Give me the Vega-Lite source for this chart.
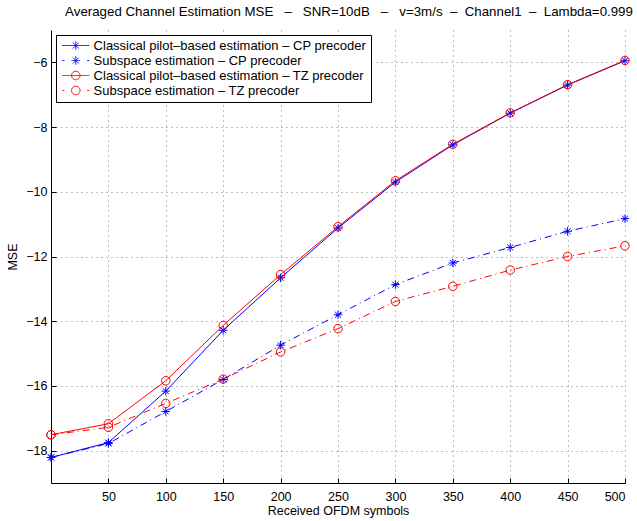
{
  "$schema": "https://vega.github.io/schema/vega-lite/v6.json",
  "width": 574,
  "height": 453,
  "autosize": {"type": "none"},
  "padding": {"left": 51, "top": 30, "right": 12, "bottom": 38},
  "background": "white",
  "config": {
    "font": "Liberation Sans",
    "view": {"stroke": null},
    "axis": {
      "domainColor": "black",
      "domainWidth": 1,
      "tickColor": "black",
      "tickWidth": 1,
      "tickSize": -5,
      "labelColor": "black",
      "labelFont": "Liberation Sans",
      "labelFontSize": 12.5,
      "titleColor": "black",
      "titleFont": "Liberation Sans",
      "titleFontSize": 12.5,
      "titleFontWeight": "normal",
      "grid": true,
      "gridColor": "#444444",
      "gridDash": [1, 4],
      "gridOpacity": 0.7,
      "gridWidth": 1
    }
  },
  "title": {
    "text": "Averaged Channel Estimation MSE \u00a0 – \u00a0 SNR=10dB \u00a0 – \u00a0 v=3m/s \u00a0– \u00a0Channel1 \u00a0– \u00a0Lambda=0.999",
    "font": "Liberation Sans",
    "fontSize": 13.3,
    "fontWeight": "normal",
    "color": "black",
    "offset": 12,
    "dx": 11
  },
  "data": {
    "values": [
      {"x": 0, "y": -18.21, "m": "Classical", "p": "CP", "s": "Classical pilot–based estimation – CP precoder"},
      {"x": 50, "y": -17.75, "m": "Classical", "p": "CP", "s": "Classical pilot–based estimation – CP precoder"},
      {"x": 100, "y": -16.16, "m": "Classical", "p": "CP", "s": "Classical pilot–based estimation – CP precoder"},
      {"x": 150, "y": -14.28, "m": "Classical", "p": "CP", "s": "Classical pilot–based estimation – CP precoder"},
      {"x": 200, "y": -12.66, "m": "Classical", "p": "CP", "s": "Classical pilot–based estimation – CP precoder"},
      {"x": 250, "y": -11.12, "m": "Classical", "p": "CP", "s": "Classical pilot–based estimation – CP precoder"},
      {"x": 300, "y": -9.7, "m": "Classical", "p": "CP", "s": "Classical pilot–based estimation – CP precoder"},
      {"x": 350, "y": -8.55, "m": "Classical", "p": "CP", "s": "Classical pilot–based estimation – CP precoder"},
      {"x": 400, "y": -7.57, "m": "Classical", "p": "CP", "s": "Classical pilot–based estimation – CP precoder"},
      {"x": 450, "y": -6.7, "m": "Classical", "p": "CP", "s": "Classical pilot–based estimation – CP precoder"},
      {"x": 500, "y": -5.95, "m": "Classical", "p": "CP", "s": "Classical pilot–based estimation – CP precoder"},
      {"x": 0, "y": -18.21, "m": "Subspace", "p": "CP", "s": "Subspace estimation – CP precoder"},
      {"x": 50, "y": -17.78, "m": "Subspace", "p": "CP", "s": "Subspace estimation – CP precoder"},
      {"x": 100, "y": -16.79, "m": "Subspace", "p": "CP", "s": "Subspace estimation – CP precoder"},
      {"x": 150, "y": -15.8, "m": "Subspace", "p": "CP", "s": "Subspace estimation – CP precoder"},
      {"x": 200, "y": -14.74, "m": "Subspace", "p": "CP", "s": "Subspace estimation – CP precoder"},
      {"x": 250, "y": -13.8, "m": "Subspace", "p": "CP", "s": "Subspace estimation – CP precoder"},
      {"x": 300, "y": -12.87, "m": "Subspace", "p": "CP", "s": "Subspace estimation – CP precoder"},
      {"x": 350, "y": -12.2, "m": "Subspace", "p": "CP", "s": "Subspace estimation – CP precoder"},
      {"x": 400, "y": -11.72, "m": "Subspace", "p": "CP", "s": "Subspace estimation – CP precoder"},
      {"x": 450, "y": -11.22, "m": "Subspace", "p": "CP", "s": "Subspace estimation – CP precoder"},
      {"x": 500, "y": -10.83, "m": "Subspace", "p": "CP", "s": "Subspace estimation – CP precoder"},
      {"x": 0, "y": -17.51, "m": "Classical", "p": "TZ", "s": "Classical pilot–based estimation – TZ precoder"},
      {"x": 50, "y": -17.17, "m": "Classical", "p": "TZ", "s": "Classical pilot–based estimation – TZ precoder"},
      {"x": 100, "y": -15.84, "m": "Classical", "p": "TZ", "s": "Classical pilot–based estimation – TZ precoder"},
      {"x": 150, "y": -14.13, "m": "Classical", "p": "TZ", "s": "Classical pilot–based estimation – TZ precoder"},
      {"x": 200, "y": -12.56, "m": "Classical", "p": "TZ", "s": "Classical pilot–based estimation – TZ precoder"},
      {"x": 250, "y": -11.08, "m": "Classical", "p": "TZ", "s": "Classical pilot–based estimation – TZ precoder"},
      {"x": 300, "y": -9.66, "m": "Classical", "p": "TZ", "s": "Classical pilot–based estimation – TZ precoder"},
      {"x": 350, "y": -8.53, "m": "Classical", "p": "TZ", "s": "Classical pilot–based estimation – TZ precoder"},
      {"x": 400, "y": -7.56, "m": "Classical", "p": "TZ", "s": "Classical pilot–based estimation – TZ precoder"},
      {"x": 450, "y": -6.69, "m": "Classical", "p": "TZ", "s": "Classical pilot–based estimation – TZ precoder"},
      {"x": 500, "y": -5.94, "m": "Classical", "p": "TZ", "s": "Classical pilot–based estimation – TZ precoder"},
      {"x": 0, "y": -17.51, "m": "Subspace", "p": "TZ", "s": "Subspace estimation – TZ precoder"},
      {"x": 50, "y": -17.28, "m": "Subspace", "p": "TZ", "s": "Subspace estimation – TZ precoder"},
      {"x": 100, "y": -16.54, "m": "Subspace", "p": "TZ", "s": "Subspace estimation – TZ precoder"},
      {"x": 150, "y": -15.79, "m": "Subspace", "p": "TZ", "s": "Subspace estimation – TZ precoder"},
      {"x": 200, "y": -14.95, "m": "Subspace", "p": "TZ", "s": "Subspace estimation – TZ precoder"},
      {"x": 250, "y": -14.23, "m": "Subspace", "p": "TZ", "s": "Subspace estimation – TZ precoder"},
      {"x": 300, "y": -13.39, "m": "Subspace", "p": "TZ", "s": "Subspace estimation – TZ precoder"},
      {"x": 350, "y": -12.92, "m": "Subspace", "p": "TZ", "s": "Subspace estimation – TZ precoder"},
      {"x": 400, "y": -12.42, "m": "Subspace", "p": "TZ", "s": "Subspace estimation – TZ precoder"},
      {"x": 450, "y": -12.0, "m": "Subspace", "p": "TZ", "s": "Subspace estimation – TZ precoder"},
      {"x": 500, "y": -11.67, "m": "Subspace", "p": "TZ", "s": "Subspace estimation – TZ precoder"}
    ]
  },
  "encoding": {
    "x": {
      "field": "x",
      "type": "quantitative",
      "scale": {"domain": [0, 500], "nice": false, "zero": false},
      "axis": {
        "title": "Received OFDM symbols",
        "values": [50, 100, 150, 200, 250, 300, 350, 400, 450, 500],
        "labelPadding": 12,
        "titlePadding": 2
      }
    },
    "y": {
      "field": "y",
      "type": "quantitative",
      "scale": {"domain": [-19, -5], "nice": false, "zero": false},
      "axis": {
        "title": "MSE",
        "values": [-18, -16, -14, -12, -10, -8, -6],
        "labelPadding": 9,
        "titlePadding": 6
      }
    },
    "color": {
      "field": "s",
      "type": "nominal",
      "scale": {
        "domain": ["Classical pilot–based estimation – CP precoder", "Subspace estimation – CP precoder", "Classical pilot–based estimation – TZ precoder", "Subspace estimation – TZ precoder"],
        "range": ["#0000ff", "#0000ff", "#ff0000", "#ff0000"]
      },
      "legend": {
        "title": null,
        "orient": "top-left",
        "offset": 5,
        "fillColor": "white",
        "strokeColor": "black",
        "padding": 4,
        "cornerRadius": 0,
        "labelFont": "Liberation Sans",
        "labelFontSize": 13,
        "labelColor": "black",
        "labelLimit": 400,
        "symbolSize": 144,
        "symbolOffset": 9.3,
        "labelOffset": 11.3,
        "rowPadding": 1,
        "symbolStrokeWidth": 1,
        "encode": {
          "symbols": {
            "update": {
              "shape": {"signal": "datum.value === 'Classical pilot–based estimation – CP precoder' ? 'M-2.25,0H2.25M0,-0.71V0.71M-0.5,-0.5L0.5,0.5M-0.5,0.5L0.5,-0.5' : datum.value === 'Classical pilot–based estimation – TZ precoder' ? 'M-2.25,0H2.25M0.71,0A0.71,0.71,0,1,1,-0.71,0A0.71,0.71,0,1,1,0.71,0' : datum.value === 'Subspace estimation – CP precoder' ? 'M-2.25,0H-1.9M1.9,0H2.25M-0.71,0H0.71M0,-0.71V0.71M-0.5,-0.5L0.5,0.5M-0.5,0.5L0.5,-0.5' : 'M-2.25,0H-1.9M1.9,0H2.25M0.71,0A0.71,0.71,0,1,1,-0.71,0A0.71,0.71,0,1,1,0.71,0'"},
              "fill": {"value": "transparent"},
              "strokeDash": {"value": [1, 0]},
              "opacity": {"value": 1},
              "strokeWidth": {"value": 1}
            }
          }
        }
      }
    }
  },
  "layer": [
    {
      "transform": [{"filter": {"field": "m", "equal": "Classical"}}],
      "mark": {"type": "line", "strokeWidth": 1}
    },
    {
      "transform": [{"filter": {"field": "m", "equal": "Subspace"}}],
      "mark": {"type": "line", "strokeWidth": 1, "strokeDash": [7, 4, 1, 4]}
    },
    {
      "transform": [{"filter": {"field": "p", "equal": "CP"}}],
      "mark": {"type": "point", "filled": false, "strokeWidth": 1, "size": 72, "opacity": 1, "shape": "M-1,0H1M0,-1V1M-0.7,-0.7L0.7,0.7M-0.7,0.7L0.7,-0.7"}
    },
    {
      "transform": [{"filter": {"field": "p", "equal": "TZ"}}],
      "mark": {"type": "point", "filled": false, "strokeWidth": 1, "size": 72, "opacity": 1, "shape": "circle"}
    }
  ]
}
